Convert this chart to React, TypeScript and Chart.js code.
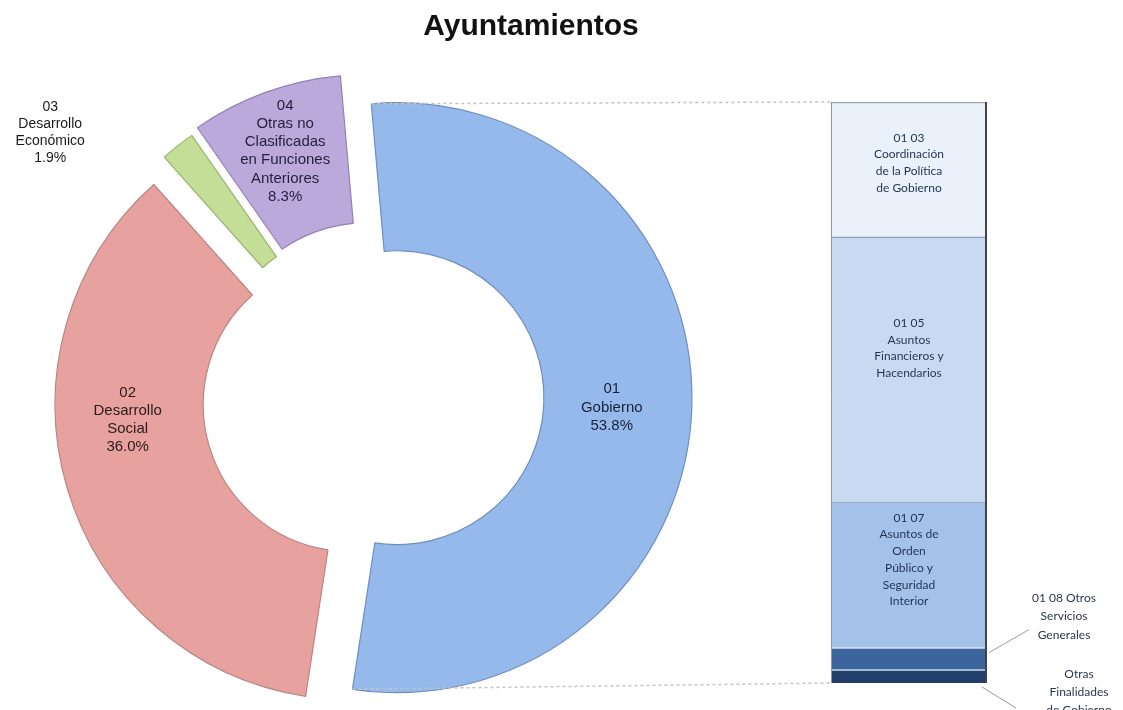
import React, { useEffect, useRef } from 'react';
import { Chart, registerables } from 'chart.js';

Chart.register(...registerables);

// ---------- data ----------
const TITLE = 'Ayuntamientos';

const donutCategories = [
  '01 Gobierno',
  '02 Desarrollo Social',
  '03 Desarrollo Económico',
  '04 Otras no Clasificadas en Funciones Anteriores',
];
const donutLabelLines = [
  ['01', 'Gobierno'],
  ['02', 'Desarrollo', 'Social'],
  ['03', 'Desarrollo', 'Económico'],
  ['04', 'Otras no', 'Clasificadas', 'en Funciones', 'Anteriores'],
];
const donutValues = [53.8, 36.0, 1.9, 8.3];

// breakdown of "01 Gobierno", listed top to bottom as in the bar
const barCategories = [
  '01 03 Coordinación de la Política de Gobierno',
  '01 05 Asuntos Financieros y Hacendarios',
  '01 07 Asuntos de Orden Público y Seguridad Interior',
  '01 08 Otros Servicios Generales',
  'Otras Finalidades de Gobierno',
];
const barLabelLines = [
  ['01 03', 'Coordinación', 'de la Política', 'de Gobierno'],
  ['01 05', 'Asuntos', 'Financieros y', 'Hacendarios'],
  ['01 07', 'Asuntos de', 'Orden', 'Público y', 'Seguridad', 'Interior'],
  ['01 08 Otros', 'Servicios', 'Generales'],
  ['Otras', 'Finalidades', 'de Gobierno'],
];
const barValues = [23.2, 45.6, 25.1, 3.8, 2.3];

// ---------- styles ----------
const donutColors = ['#96b9ec', '#e7a2a0', '#c4de98', '#bba9dc'];
const donutBorders = ['#6f8ec0', '#b98583', '#9bb472', '#9282b8'];
const EXPLODE = [21, 27, 25, 29];
const LABEL_FRAC = [0.504, 0.597, -1.47, 0.487];
const LABEL_R = [215, 223, 395, 233];
const LABEL_FONT = [15, 15, 14, 15];
const LABEL_COLOR = ['#16223a', '#2b1a1a', '#1a1a1a', '#231f3a'];

const barColors = ['#eaf1fb', '#c8daf2', '#a3c1e9', '#3a649b', '#213f6b'];
const barTopBorder = ['#9aa6b5', '#8e9db1', '#9fb0c6', '#d3e0f2', '#d3e0f2'];
const BAR_INSIDE_DY = [-6.5, -21, -15];
const FONT_ARIAL = '"Liberation Sans", Arial, sans-serif';
const FONT_CAL = 'Lato, "Open Sans", sans-serif';

function drawLines(ctx: CanvasRenderingContext2D, lines: string[], x: number, y: number, lh: number) {
  const y0 = y - ((lines.length - 1) * lh) / 2;
  lines.forEach((t, k) => ctx.fillText(t, x, y0 + k * lh));
}

function explodedCenter(el: any, d: number) {
  const half = (el.startAngle + el.endAngle) / 2;
  return { x: el.x + Math.cos(half) * d, y: el.y + Math.sin(half) * d };
}

const donutPlugin = {
  id: 'donutDeco',
  beforeDatasetDraw(chart: any, args: any) {
    const meta = chart.getDatasetMeta(args.index);
    const ctx = chart.ctx;
    meta.data.forEach((el: any, i: number) => {
      const half = (el.startAngle + el.endAngle) / 2;
      ctx.save();
      ctx.translate(Math.cos(half) * EXPLODE[i], Math.sin(half) * EXPLODE[i]);
      el.draw(ctx);
      ctx.restore();
    });
    return false;
  },
  afterDatasetsDraw(chart: any) {
    const meta = chart.getDatasetMeta(0);
    const ctx = chart.ctx;
    const total = donutValues.reduce((a, b) => a + b, 0);
    ctx.save();
    ctx.textAlign = 'center';
    ctx.textBaseline = 'middle';
    meta.data.forEach((el: any, i: number) => {
      const c = explodedCenter(el, EXPLODE[i]);
      const a = el.startAngle + LABEL_FRAC[i] * (el.endAngle - el.startAngle);
      const x = c.x + Math.cos(a) * LABEL_R[i];
      const y = c.y + Math.sin(a) * LABEL_R[i];
      const pct = ((donutValues[i] / total) * 100).toFixed(1) + '%';
      ctx.font = `${LABEL_FONT[i]}px ${FONT_ARIAL}`;
      ctx.fillStyle = LABEL_COLOR[i];
      drawLines(ctx, [...donutLabelLines[i], pct], x, y, LABEL_FONT[i] === 15 ? 18.2 : 17);
    });
    ctx.restore();
  },
};

function makeBarPlugin(donut: any) {
  return {
    id: 'barDeco',
    afterDatasetsDraw(chart: any) {
      const ctx = chart.ctx;
      const n = barValues.length;
      const seg = (j: number) => chart.getDatasetMeta(n - 1 - j).data[0] as any;
      const top = seg(0);
      const bottom = seg(n - 1);
      const left = top.x - top.width / 2;
      const right = top.x + top.width / 2;
      const yTop = top.y;
      const yBot = bottom.base;

      // side edges
      ctx.save();
      ctx.lineWidth = 1;
      ctx.strokeStyle = '#8b95a3';
      ctx.beginPath();
      ctx.moveTo(left + 0.5, yTop);
      ctx.lineTo(left + 0.5, yBot);
      ctx.stroke();
      ctx.lineWidth = 2;
      ctx.strokeStyle = '#3f4449';
      ctx.beginPath();
      ctx.moveTo(right - 1, yTop);
      ctx.lineTo(right - 1, yBot);
      ctx.stroke();
      ctx.restore();

      // title
      ctx.save();
      ctx.font = `bold 30px ${FONT_ARIAL}`;
      ctx.fillStyle = '#111111';
      ctx.textAlign = 'center';
      ctx.textBaseline = 'alphabetic';
      ctx.fillText(TITLE, 531, 35);
      ctx.restore();

      // series lines from the Gobierno slice to the bar
      const g = donut.getDatasetMeta(0).data[0] as any;
      const gc = explodedCenter(g, EXPLODE[0]);
      const R = g.outerRadius;
      const p1 = { x: gc.x + Math.cos(g.startAngle) * R, y: gc.y + Math.sin(g.startAngle) * R };
      const p2 = { x: gc.x + Math.cos(g.endAngle) * R, y: gc.y + Math.sin(g.endAngle) * R };
      ctx.save();
      ctx.strokeStyle = '#c4c4c4';
      ctx.lineWidth = 1.5;
      ctx.setLineDash([3, 3]);
      ctx.beginPath();
      ctx.moveTo(p1.x, p1.y);
      ctx.lineTo(left, yTop);
      ctx.moveTo(p2.x, p2.y);
      ctx.lineTo(left, yBot);
      ctx.stroke();
      ctx.restore();

      // inside labels
      ctx.save();
      ctx.textAlign = 'center';
      ctx.textBaseline = 'middle';
      ctx.font = `12px ${FONT_CAL}`;
      ctx.fillStyle = '#1f3355';
      for (let j = 0; j < 3; j++) {
        const el = seg(j);
        const cy = (el.y + el.base) / 2 + BAR_INSIDE_DY[j];
        drawLines(ctx, barLabelLines[j], el.x, cy, 16.7);
      }
      // outside labels with leader lines
      ctx.fillStyle = '#2b3650';
      const s8 = seg(3);
      const c8 = (s8.y + s8.base) / 2;
      drawLines(ctx, barLabelLines[3], right + 77, c8 - 42, 18.3);
      const s9 = seg(4);
      drawLines(ctx, barLabelLines[4], right + 92, s9.base + 9, 18.3);
      ctx.strokeStyle = '#9a9a9a';
      ctx.lineWidth = 1;
      ctx.beginPath();
      ctx.moveTo(right + 2, c8 - 6);
      ctx.lineTo(right + 42, c8 - 29);
      ctx.moveTo(right - 5, s9.base + 4);
      ctx.lineTo(right + 29, s9.base + 25);
      ctx.stroke();
      ctx.restore();
    },
  };
}

export default function App() {
  const donutRef = useRef<HTMLCanvasElement>(null);
  const barRef = useRef<HTMLCanvasElement>(null);

  useEffect(() => {
    const donut = new Chart(donutRef.current!, {
      type: 'doughnut',
      data: {
        labels: donutCategories,
        datasets: [
          {
            data: donutValues,
            backgroundColor: donutColors,
            borderColor: donutBorders,
            borderWidth: 1.2,
            offset: 0,
            hoverOffset: 0,
          },
        ],
      },
      options: {
        animation: false,
        responsive: false,
        rotation: -5,
        radius: 295,
        cutout: '49.8%',
        layout: { padding: { left: 0, right: 371, top: 84, bottom: 0 } },
        events: [],
        plugins: {
          legend: { display: false },
          tooltip: { enabled: false },
        },
      } as any,
      plugins: [donutPlugin as any],
    });

    const n = barValues.length;
    const datasets = barValues
      .map((v, j) => ({
        label: barCategories[j],
        data: [v],
        backgroundColor: barColors[j],
        borderColor: barTopBorder[j],
        borderWidth: { top: 1.5, left: 0, right: 0, bottom: 0 },
        borderSkipped: false,
        barPercentage: 1,
        categoryPercentage: 1,
        stack: 'g',
      }))
      .reverse();

    const bar = new Chart(barRef.current!, {
      type: 'bar',
      data: { labels: ['01 Gobierno'], datasets: datasets as any },
      options: {
        animation: false,
        responsive: false,
        events: [],
        layout: { padding: { left: 831, right: 136, top: 102, bottom: 27 } },
        scales: {
          x: { display: false, stacked: true },
          y: { display: false, stacked: true, min: 0, max: 100 },
        },
        plugins: {
          legend: { display: false },
          tooltip: { enabled: false },
        },
      } as any,
      plugins: [makeBarPlugin(donut) as any],
    });

    return () => {
      bar.destroy();
      donut.destroy();
    };
  }, []);

  return (
    <div
      style={{
        position: 'fixed',
        left: 0,
        top: 0,
        width: 1123,
        height: 710,
        overflow: 'hidden',
        background: '#ffffff',
      }}
    >
      <canvas ref={donutRef} width={1123} height={710} style={{ position: 'absolute', left: 0, top: 0 }} />
      <canvas ref={barRef} width={1123} height={710} style={{ position: 'absolute', left: 0, top: 0 }} />
    </div>
  );
}
